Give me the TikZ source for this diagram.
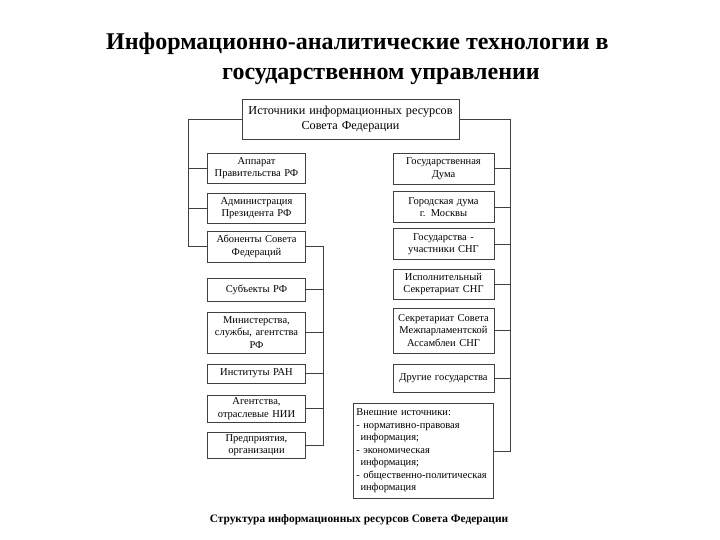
\documentclass[tikz,border=0pt]{standalone}
\usepackage{fontspec}
\setmainfont{Liberation Serif}
\usetikzlibrary{positioning}

\begin{document}
\begin{tikzpicture}[x=1pt,y=-1pt,
    box/.style={draw=black!75,line width=0.6pt,align=center,inner sep=1pt,
      font=\fontsize{10.5}{12.5}\selectfont},
    lbox/.style={box,minimum width=98pt,text width=94pt},
    rbox/.style={box,minimum width=101pt,text width=97pt},
    link/.style={draw=black!75,line width=0.6pt}]
    \useasboundingbox[fill=white] (0,0) rectangle (720,540);

    % title
    \node[anchor=base west,font=\fontsize{24}{28}\selectfont\bfseries,inner sep=0pt] (title1) at (106,50) {Информационно-аналитические технологии в};
    \node[anchor=base west,font=\fontsize{24}{28}\selectfont\bfseries,inner sep=0pt] (title2) at (222,80) {государственном управлении};

    \node[box,minimum width=217pt,minimum height=40pt,text width=212pt,
      font=\fontsize{12.2}{15}\selectfont] (src) at (350.5,119.5) {Источники информационных ресурсов\\Совета Федерации};

    % left column
    \node[lbox,minimum height=30pt] (app) at (256.5,168) {Аппарат\\Правительства РФ};
    \node[lbox,minimum height=30pt] (adm) at (256.5,208) {Администрация\\Президента РФ};
    \node[lbox,minimum height=31pt] (abon) at (256.5,246.5) {Абоненты Совета\\Федераций};

    \node[lbox,minimum height=23pt] (subj) at (256.5,289.5) {Субъекты РФ};
    \node[lbox,minimum height=41pt] (min) at (256.5,332.5) {Министерства,\\службы, агентства\\РФ};
    \node[lbox,minimum height=19pt] (ran) at (256.5,373.5) {Институты РАН};
    \node[lbox,minimum height=27pt] (nii) at (256.5,408.5) {Агентства,\\отраслевые НИИ};
    \node[lbox,minimum height=26pt] (pred) at (256.5,445) {Предприятия,\\организации};

    % right column
    \node[rbox,minimum height=31pt] (duma) at (443.5,168.5) {Государственная\\Дума};
    \node[rbox,minimum height=31pt] (mosk) at (443.5,207) {Городская дума\\г. Москвы};
    \node[rbox,minimum height=31pt] (sng) at (443.5,244) {Государства -\\участники СНГ};
    \node[rbox,minimum height=30pt] (isp) at (443.5,284) {Исполнительный\\Секретариат СНГ};
    \node[rbox,minimum height=45pt] (mpa) at (443.5,330.5) {Секретариат Совета\\Межпарламентской\\Ассамблеи СНГ};
    \node[rbox,minimum height=28pt] (other) at (443.5,378) {Другие государства};

    \node[box,align=left,anchor=north west,minimum width=140pt,minimum height=95pt,
      text width=134pt,inner sep=3pt] (ext) at (353,403) {Внешние источники:\\
      - нормативно-правовая\\\hspace*{0.4em}информация;\\
      - экономическая\\\hspace*{0.4em}информация;\\
      - общественно-политическая\\\hspace*{0.4em}информация};

    \node[font=\fontsize{11.4}{14}\selectfont\bfseries] (caption) at (359,520) {Структура информационных ресурсов Совета Федерации};

    % buses
    \coordinate (lbus) at (188,0);
    \coordinate (mbus) at (323,0);
    \coordinate (rbus) at (510,0);

    \draw[link] (src.west) -| (lbus |- abon.west) -- (abon.west);
    \foreach \b in {app,adm}
    \draw[link] (\b.west) -- (lbus |- \b.west);

    \draw[link] (abon.east) -| (mbus |- pred.east) -- (pred.east);
    \foreach \b in {subj,min,ran,nii}
    \draw[link] (\b.east) -- (mbus |- \b.east);

    \draw[link] (src.east) -| (rbus |- ext.east) -- (ext.east);
    \foreach \b in {duma,mosk,sng,isp,mpa,other}
    \draw[link] (\b.east) -- (rbus |- \b.east);

\end{tikzpicture}
\end{document}
